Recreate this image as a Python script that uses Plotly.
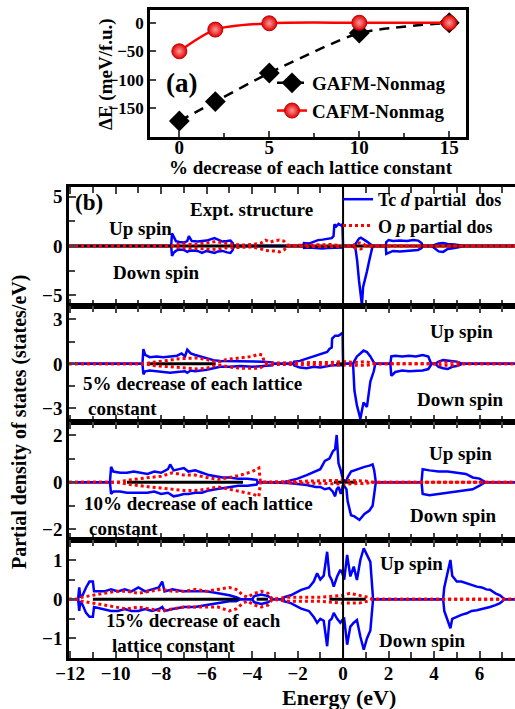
import plotly.graph_objects as go

W, H = 515, 709

# ---------------- panel (a) data ----------------
LATTICE_PCT = [0, 2, 5, 10, 15]
GAFM_DE = [-172, -138, -88, -18, 0]
CAFM_DE = [-50, -12, -1, 0, 0]

# ---------------- panel (b) data: partial DOS (states/eV) vs energy (eV) ----------------
# Expt. structure
P1_TC_E = [-12.05, -7.56, -7.52, -7.45, -7.35, -7.2, -7.0, -6.85, -6.78, -6.65, -6.4, -6.2, -6.0, -5.8, -5.65,
           -5.5, -5.3, -5.1, -4.95, -4.85, -4.8, -1.76, -1.72, -1.5, -1.3, -1.1, -0.9, -0.7, -0.5, -0.42,
           -0.38, -0.3, -0.2, -0.1, -0.03, 0.0, 0.45, 0.55, 0.62, 0.7, 0.78, 0.83, 0.88, 0.95, 1.05, 1.15,
           1.25, 1.3, 1.88, 1.9, 2.0, 2.2, 2.5, 2.8, 3.1, 3.3, 3.45, 3.5, 3.9, 4.0, 4.2, 4.4, 4.6, 4.9, 5.2,
           5.35, 7.6]
P1_TC_UP = [0, 0, 1.3, 0.9, 0.5, 0.4, 0.35, 0.5, 1.0, 0.5, 0.45, 0.5, 0.55, 0.7, 0.8, 0.65, 0.45, 0.5, 0.55,
            0.3, 0, 0, 0.3, 0.25, 0.45, 0.6, 0.65, 0.75, 0.8, 1.0, 2.2, 2.0, 2.25, 2.1, 2.2, 0, 0, 0.2, 0.5,
            0.75, 0.85, 0.8, 0.7, 0.6, 0.45, 0.3, 0.1, 0, 0, 0.4, 0.6, 0.5, 0.55, 0.5, 0.6, 0.55, 0.3, 0, 0,
            0.1, 0.25, 0.3, 0.2, 0.15, 0.1, 0, 0]
P1_TC_DN = [0, 0, -1.0, -0.7, -0.5, -0.35, -0.4, -0.6, -0.5, -0.45, -0.5, -0.7, -0.5, -0.6, -0.7, -0.55, -0.5,
            -0.65, -0.7, -0.4, 0, 0, -0.2, -0.15, -0.2, -0.2, -0.25, -0.2, -0.2, -0.2, -0.15, -0.15, -0.2,
            -0.15, -0.15, 0, 0, -0.3, -1.5, -3.5, -5.0, -6.0, -4.2, -3.6, -2.6, -1.5, -0.4, 0, 0, -0.8, -0.7,
            -0.5, -0.55, -0.5, -0.5, -0.4, -0.2, 0, 0, -0.2, -0.55, -0.6, -0.3, -0.2, -0.1, 0, 0]
P1_OP_E = [-12.05, -7.5, -7.4, -7.0, -6.5, -6.0, -5.6, -5.2, -4.8, -4.4, -4.0, -3.6, -3.4, -3.2, -3.0, -2.8,
           -2.6, -2.45, -2.3, -1.5, -0.5, 0.0, 0.45, 0.55, 0.75, 0.9, 1.0, 7.6]
P1_OP_UP = [0, 0, 0.15, 0.2, 0.15, 0.3, 0.45, 0.3, 0.15, 0.1, 0.15, 0.3, 0.6, 0.4, 0.55, 0.6, 0.5, 0.1, 0.05,
            0.1, 0.15, 0, 0.05, 0.25, 0.3, 0.2, 0, 0]
P1_OP_DN = [0, 0, -0.15, -0.2, -0.2, -0.3, -0.35, -0.2, -0.15, -0.1, -0.1, -0.3, -0.45, -0.5, -0.5, -0.6,
            -0.4, -0.1, 0, -0.05, -0.05, 0, -0.05, -0.2, -0.3, -0.25, 0, 0]
P1_BLACK = [(-12.05, 7.6)]

# 5% decrease
P2_TC_E = [-12.05, -8.82, -8.78, -8.7, -8.5, -8.2, -7.9, -7.6, -7.3, -7.1, -6.95, -6.85, -6.7, -6.5, -6.2,
           -6.0, -5.7, -5.4, -5.0, -4.5, -4.0, -3.5, -3.1, -3.05, -2.2, -2.15, -1.9, -1.6, -1.3, -1.0, -0.7,
           -0.6, -0.5, -0.48, -0.35, -0.2, -0.1, -0.02, 0.0, 0.44, 0.5, 0.61, 0.76, 0.9, 1.05, 1.2, 1.35,
           1.42, 2.08, 2.12, 2.3, 2.6, 2.9, 3.2, 3.5, 3.75, 3.85, 3.9, 4.05, 4.2, 4.4, 4.6, 4.8, 5.0, 5.25, 7.6]
P2_TC_UP = [0, 0, 1.0, 0.6, 0.45, 0.5, 0.45, 0.5, 0.55, 0.7, 0.5, 0.95, 0.7, 0.6, 0.45, 0.35, 0.25, 0.2, 0.2,
            0.15, 0.2, 0.15, 0.1, 0, 0, 0.15, 0.2, 0.35, 0.45, 0.6, 0.8, 1.0, 1.1, 1.7, 1.9, 1.9, 2.0, 2.1, 0,
            0, 0.2, 0.5, 0.7, 0.9, 0.8, 0.5, 0.1, 0, 0, 0.5, 0.55, 0.5, 0.55, 0.5, 0.6, 0.5, 0.1, 0, 0, 0.15,
            0.25, 0.2, 0.2, 0.15, 0, 0]
P2_TC_DN = [0, 0, -0.7, -0.5, -0.45, -0.5, -0.5, -0.6, -0.55, -0.5, -0.5, -0.6, -0.45, -0.5, -0.45, -0.4,
            -0.3, -0.2, -0.2, -0.15, -0.2, -0.15, -0.1, 0, 0, -0.1, -0.25, -0.3, -0.2, -0.25, -0.15, -0.1,
            -0.1, -0.1, -0.1, -0.1, -0.1, -0.1, 0, 0, -1.8, -2.8, -3.7, -2.6, -2.9, -1.2, -0.5, 0, 0, -0.8,
            -0.55, -0.45, -0.5, -0.5, -0.45, -0.35, -0.1, 0, 0, -0.2, -0.3, -0.35, -0.2, -0.15, 0, 0]
P2_OP_E = [-12.05, -8.7, -8.4, -8.0, -7.6, -7.2, -6.8, -6.4, -6.0, -5.7, -5.4, -5.1, -4.8, -4.4, -4.0, -3.7,
           -3.55, -3.45, -2.0, -0.5, 0.0, 0.5, 1.0, 1.4, 4.0, 4.3, 5.0, 5.3, 7.6]
P2_OP_UP = [0, 0, 0.1, 0.15, 0.25, 0.35, 0.35, 0.4, 0.3, 0.15, 0.15, 0.3, 0.35, 0.4, 0.5, 0.65, 0.6, 0.05,
            0.05, 0.1, 0.15, 0.1, 0.15, 0, 0, 0.1, 0.1, 0, 0]
P2_OP_DN = [0, 0, -0.1, -0.15, -0.25, -0.3, -0.35, -0.35, -0.3, -0.15, -0.1, -0.2, -0.25, -0.3, -0.3, -0.3,
            -0.2, -0.05, -0.05, -0.1, -0.1, -0.1, -0.1, 0, 0, -0.1, -0.1, 0, 0]
P2_BLACK = [(-8.6, -5.6), (-0.3, 0.0)]

# 10% decrease
P3_TC_E = [-12.05, -10.25, -10.2, -10.1, -9.8, -9.5, -9.2, -8.9, -8.6, -8.3, -8.0, -7.7, -7.6, -7.45, -7.2,
           -7.0, -6.8, -6.5, -6.2, -5.9, -5.6, -5.3, -5.0, -4.6, -4.2, -3.8, -3.75, -2.65, -2.4, -2.0, -1.6,
           -1.2, -1.0, -0.8, -0.6, -0.45, -0.35, -0.28, -0.2, -0.1, 0.0, 0.15, 0.2, 0.35, 0.5, 0.72, 0.94,
           1.16, 1.3, 1.37, 1.44, 3.45, 3.5, 3.8, 4.2, 4.6, 5.0, 5.4, 5.7, 6.0, 6.25, 7.6]
P3_TC_UP = [0, 0, 0.65, 0.45, 0.4, 0.4, 0.45, 0.4, 0.35, 0.45, 0.4, 0.55, 0.75, 0.5, 0.55, 0.6, 0.45, 0.5,
            0.4, 0.3, 0.25, 0.2, 0.2, 0.15, 0.15, 0.1, 0, 0, 0.05, 0.15, 0.3, 0.45, 0.55, 0.9, 1.0, 1.3, 1.4,
            2.0, 0.8, 0.5, 0.1, 0.05, 0.2, 0.45, 0.5, 0.6, 0.65, 0.7, 0.75, 0.5, 0, 0, 0.55, 0.5, 0.45, 0.45,
            0.4, 0.35, 0.2, 0.15, 0, 0]
P3_TC_DN = [0, 0, -0.5, -0.4, -0.4, -0.45, -0.45, -0.45, -0.45, -0.4, -0.5, -0.45, -0.5, -0.6, -0.55, -0.5,
            -0.5, -0.45, -0.45, -0.35, -0.3, -0.25, -0.2, -0.15, -0.15, -0.1, 0, 0, -0.03, -0.08, -0.12,
            -0.2, -0.2, -0.3, -0.25, -0.4, -0.6, -0.3, -0.2, -0.5, -0.1, -0.3, -0.8, -1.4, -1.45, -1.6,
            -1.35, -1.2, -1.0, -0.5, 0, 0, -0.5, -0.55, -0.5, -0.45, -0.4, -0.35, -0.3, -0.15, 0, 0]
P3_OP_E = [-12.05, -9.92, -9.5, -9.0, -8.5, -8.0, -7.5, -7.0, -6.5, -6.0, -5.5, -5.0, -4.5, -4.0, -3.7, -3.63,
           -1.0, 0.0, 1.0, 1.3, 7.6]
P3_OP_UP = [0, 0, 0.08, 0.15, 0.2, 0.25, 0.4, 0.3, 0.3, 0.2, 0.12, 0.2, 0.3, 0.45, 0.6, 0, 0.05, 0.08, 0.05,
            0, 0]
P3_OP_DN = [0, 0, -0.08, -0.15, -0.2, -0.25, -0.3, -0.35, -0.35, -0.3, -0.2, -0.3, -0.4, -0.5, -0.6, 0,
            -0.05, -0.08, -0.05, 0, 0]
P3_BLACK = [(-9.5, -4.4), (-0.4, 0.6)]

# 15% decrease
P4_TC_E = [-12.05, -11.65, -11.6, -11.55, -11.45, -11.3, -11.15, -11.0, -10.95, -10.5, -10.2, -9.9, -9.6,
           -9.3, -9.0, -8.7, -8.4, -8.1, -7.95, -7.85, -7.5, -7.0, -6.5, -6.0, -5.5, -5.0, -4.7, -4.5, -4.0,
           -3.9, -3.6, -3.3, -3.1, -2.62, -2.6, -2.3, -1.84, -1.5, -1.29, -1.14, -1.0, -0.85, -0.7, -0.6,
           -0.5, -0.41, -0.26, -0.12, -0.03, 0.05, 0.18, 0.32, 0.47, 0.61, 0.76, 0.91, 1.05, 1.2, 1.32, 4.4,
           4.45, 4.6, 4.72, 4.8, 5.0, 5.2, 5.44, 5.65, 5.88, 6.1, 6.3, 6.46, 6.7, 6.9, 7.1, 7.6]
P4_TC_UP = [0, 0, 0.3, 0.05, 0.1, 0.3, 0.45, 0.45, 0.2, 0.2, 0.25, 0.2, 0.25, 0.2, 0.3, 0.2, 0.25, 0.3, 0.45,
            0.2, 0.25, 0.2, 0.2, 0.2, 0.15, 0.1, 0.05, 0, 0, 0.08, 0.12, 0.08, 0, 0, 0.05, 0.1, 0.24, 0.3,
            0.45, 0.66, 0.5, 0.6, 1.21, 0.6, 0.49, 0.32, 0.58, 0.75, 0.66, 0.5, 1.13, 0.58, 0.83, 0.49, 1.0,
            1.3, 1.13, 0.95, 0, 0, 0.3, 0.7, 1.0, 0.6, 0.45, 0.45, 0.4, 0.35, 0.32, 0.3, 0.25, 0.24, 0.15,
            0.1, 0, 0]
P4_TC_DN = [0, 0, -0.3, -0.05, -0.15, -0.35, -0.45, -0.45, -0.2, -0.25, -0.3, -0.3, -0.25, -0.3, -0.3,
            -0.25, -0.3, -0.25, -0.2, -0.3, -0.25, -0.2, -0.2, -0.15, -0.1, -0.05, -0.05, 0, 0, -0.08, -0.12,
            -0.08, 0, 0, -0.05, -0.1, -0.24, -0.3, -0.45, -0.6, -0.5, -0.55, -1.2, -0.55, -0.5, -0.35, -0.5,
            -0.6, -0.53, -0.5, -1.16, -0.7, -0.6, -0.53, -0.95, -1.29, -1.0, -0.8, 0, 0, -0.3, -0.55, -0.74,
            -0.5, -0.44, -0.4, -0.36, -0.3, -0.28, -0.25, -0.23, -0.2, -0.15, -0.1, 0, 0]
P4_OP_E = [-12.05, -11.7, -11.5, -11.0, -10.5, -10.0, -9.5, -9.0, -8.5, -8.0, -7.5, -7.0, -6.5, -6.0, -5.5,
           -5.0, -4.7, -4.4, -4.2, -3.9, -3.6, -3.3, -3.1, -2.5, -1.0, 0.0, 0.3, 0.7, 1.1, 1.3, 7.6]
P4_OP_UP = [0, 0, 0.05, 0.1, 0.15, 0.2, 0.2, 0.15, 0.2, 0.25, 0.2, 0.2, 0.25, 0.2, 0.25, 0.3, 0.25, 0.1, 0.05,
            0.15, 0.2, 0.15, 0, 0.05, 0.05, 0.1, 0.15, 0.1, 0.05, 0, 0]
P4_OP_DN = [0, 0, -0.05, -0.1, -0.15, -0.2, -0.25, -0.2, -0.25, -0.3, -0.25, -0.2, -0.2, -0.2, -0.2, -0.3,
            -0.25, -0.1, -0.05, -0.15, -0.2, -0.15, 0, -0.05, -0.05, -0.1, -0.1, -0.1, -0.05, 0, 0]
P4_BLACK = [(-11.0, -4.6), (-3.8, -3.3), (-0.6, 1.0)]

PANELS = [
    (P1_TC_E, P1_TC_UP, P1_TC_DN, P1_OP_E, P1_OP_UP, P1_OP_DN, P1_BLACK),
    (P2_TC_E, P2_TC_UP, P2_TC_DN, P2_OP_E, P2_OP_UP, P2_OP_DN, P2_BLACK),
    (P3_TC_E, P3_TC_UP, P3_TC_DN, P3_OP_E, P3_OP_UP, P3_OP_DN, P3_BLACK),
    (P4_TC_E, P4_TC_UP, P4_TC_DN, P4_OP_E, P4_OP_UP, P4_OP_DN, P4_BLACK),
]
for p in PANELS:
    assert len(p[0]) == len(p[1]) == len(p[2]), (len(p[0]), len(p[1]), len(p[2]))
    assert len(p[3]) == len(p[4]) == len(p[5]), (len(p[3]), len(p[4]), len(p[5]))

Y_RANGES = [[-6.1, 6.0], [-3.92, 3.9], [-2.45, 2.55], [-1.5, 1.51]]
Y_DTICK = [5, 3, 2, 1]
PANEL_PX = [(187, 306), (306, 422), (422, 540), (540, 658)]

FONT = "Liberation Serif"
BLUE = "#0000ff"
RED = "#ff0000"


def fx(px):
    return px / W


def fy(py):
    return 1 - py / H


fig = go.Figure()

# ---- panel (a)
fig.add_trace(go.Scatter(
    x=LATTICE_PCT, y=GAFM_DE, mode="lines+markers", name="GAFM-Nonmag",
    line=dict(color="black", width=2.5, dash="10px,7px", shape="spline", smoothing=0.6),
    marker=dict(symbol="diamond", size=16, color="black"),
    xaxis="x", yaxis="y", legend="legend"))
fig.add_trace(go.Scatter(
    x=LATTICE_PCT, y=CAFM_DE, mode="lines+markers", name="CAFM-Nonmag",
    line=dict(color=RED, width=2.5, shape="spline", smoothing=0.8),
    marker=dict(symbol="circle", size=15, color="#e00000",
                gradient=dict(type="radial", color="#ff9a9a"),
                line=dict(color="#c00000", width=1)),
    xaxis="x", yaxis="y", legend="legend"))

# ---- panel (b)
for i, (te, tu, td, oe, ou, od, blk) in enumerate(PANELS):
    ax = str(i + 2)
    first = i == 0
    fig.add_trace(go.Scatter(x=te, y=tu, mode="lines", line=dict(color=BLUE, width=2.5),
                             name="Tc <i>d</i> partial\u00a0 dos", showlegend=first, legend="legend2",
                             xaxis="x" + ax, yaxis="y" + ax))
    fig.add_trace(go.Scatter(x=te, y=td, mode="lines", line=dict(color=BLUE, width=2.5),
                             showlegend=False, xaxis="x" + ax, yaxis="y" + ax))
    for (a, b) in blk:
        fig.add_trace(go.Scatter(x=[a, b], y=[0, 0], mode="lines", line=dict(color="black", width=3),
                                 showlegend=False, xaxis="x" + ax, yaxis="y" + ax, hoverinfo="skip"))
    fig.add_trace(go.Scatter(x=oe, y=ou, mode="lines", line=dict(color=RED, width=3, dash="dot"),
                             name="O <i>p</i> partial dos", showlegend=first, legend="legend2",
                             xaxis="x" + ax, yaxis="y" + ax))
    fig.add_trace(go.Scatter(x=oe, y=od, mode="lines", line=dict(color=RED, width=3, dash="dot"),
                             showlegend=False, xaxis="x" + ax, yaxis="y" + ax))

layout = dict(
    template="none",
    width=W, height=H, margin=dict(l=0, r=0, t=0, b=0, autoexpand=False),
    paper_bgcolor="white", plot_bgcolor="white",
    font=dict(family=FONT, size=18, color="black", weight="bold"),
    xaxis=dict(domain=[fx(150), fx(466)], range=[-1.63, 15.93], anchor="y", automargin=False,
               tickmode="linear", tick0=0, dtick=5, ticks="inside", ticklen=6, tickwidth=2,
               minor=dict(dtick=2.5, tick0=0, ticks="inside", ticklen=4, tickwidth=2),
               showline=True, linewidth=2.5, linecolor="black", mirror=True,
               showgrid=False, zeroline=False, ticklabelstandoff=-8,
               tickfont=dict(family=FONT, size=19, weight="bold")),
    yaxis=dict(domain=[fy(136.7), fy(10)], range=[-199.5, 22.3], anchor="x", automargin=False,
               tickmode="linear", tick0=0, dtick=50, ticks="inside", ticklen=6, tickwidth=2,
               showline=True, linewidth=2.5, linecolor="black", mirror=True,
               showgrid=False, zeroline=False,
               tickfont=dict(family=FONT, size=17, weight="bold")),
    legend=dict(x=fx(272), y=fy(64), xanchor="left", yanchor="top", bgcolor="rgba(0,0,0,0)",
                font=dict(family=FONT, size=19, weight="bold"), tracegroupgap=0),
    legend2=dict(x=fx(338), y=fy(181), xanchor="left", yanchor="top", bgcolor="rgba(0,0,0,0)",
                 font=dict(family=FONT, size=18, weight="bold"), tracegroupgap=0),
)

for i in range(4):
    ax = str(i + 2)
    top, bot = PANEL_PX[i]
    layout["xaxis" + ax] = dict(
        domain=[fx(69), 1.0], range=[-12.05, 7.56], anchor="y" + ax, automargin=False,
        tickmode="linear", tick0=0, dtick=2, ticks="inside", ticklen=7, tickwidth=2,
        minor=dict(dtick=1, tick0=0, ticks="inside", ticklen=6, tickwidth=2),
        showline=True, linewidth=2.5, linecolor="black", mirror="ticks",
        showgrid=False, zeroline=False, showticklabels=(i == 3), ticklabelstandoff=-4,
        tickfont=dict(family=FONT, size=19, weight="bold"))
    layout["yaxis" + ax] = dict(
        domain=[fy(bot), fy(top)], range=Y_RANGES[i], anchor="x" + ax, automargin=False,
        tickmode="linear", tick0=0, dtick=Y_DTICK[i], ticks="inside", ticklen=7, tickwidth=2,
        minor=dict(dtick=Y_DTICK[i] / 2, tick0=0, ticks="inside", ticklen=6, tickwidth=2),
        showline=True, linewidth=2.5, linecolor="black", mirror=False,
        showgrid=False, zeroline=False,
        tickfont=dict(family=FONT, size=19, weight="bold"))

fig.update_layout(**layout)

# vertical Fermi-level lines
for i in range(4):
    ax = str(i + 2)
    fig.add_shape(type="line", xref="x" + ax, yref="y" + ax + " domain", x0=0, x1=0, y0=0, y1=1,
                  line=dict(color="black", width=2))


def ann(text, x, y, size, xanchor="center", angle=0):
    fig.add_annotation(text=text, x=fx(x), y=fy(y), xref="paper", yref="paper", showarrow=False,
                       xanchor=xanchor, yanchor="middle", textangle=angle,
                       font=dict(family=FONT, size=size, color="black", weight="bold"))


# panel (a) texts
ann("(a)", 181, 83, 27)
ann("% decrease of each lattice constant", 311, 168, 19)
ann("\u0394E (meV/f.u.)", 106, 74, 19, angle=-90)

# panel (b) texts
ann("(b)", 89, 202, 23)
ann("Expt. structure", 188, 209, 19, xanchor="left")
ann("Up spin", 107, 229, 19, xanchor="left")
ann("Down spin", 111, 272, 19, xanchor="left")

ann("Up spin", 428, 332, 19, xanchor="left")
ann("Down spin", 415, 399, 19, xanchor="left")
ann("5% decrease of each lattice", 81, 383, 19, xanchor="left")
ann("constant", 86, 408, 19, xanchor="left")

ann("Up spin", 427, 453, 19, xanchor="left")
ann("Down spin", 408, 515, 19, xanchor="left")
ann("10% decrease of each lattice", 82, 503, 19, xanchor="left")
ann("constant", 87, 528, 19, xanchor="left")

ann("Up spin", 378, 563, 19, xanchor="left")
ann("Down spin", 377, 640, 19, xanchor="left")
ann("15% decrease of each", 104, 620, 19, xanchor="left")
ann("lattice constant", 110, 645, 19, xanchor="left")

ann("Energy (eV)", 339, 697, 22)
ann("Partial density of states (states/eV)", 19, 422, 20, angle=-90)

fig.write_html("out.html")
